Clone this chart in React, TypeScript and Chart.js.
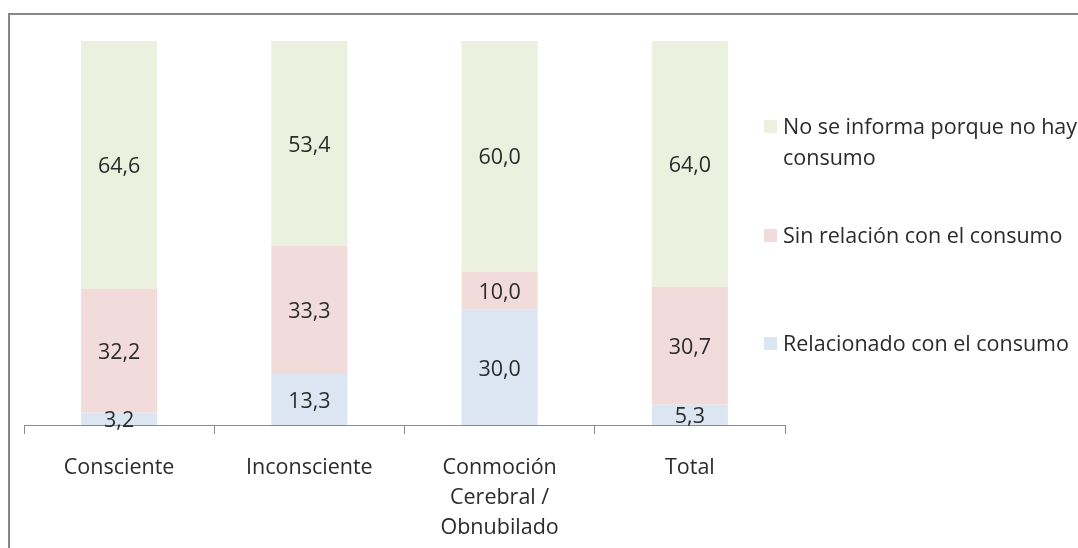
import React, { useEffect, useRef } from "react";
import { Chart, registerables } from "chart.js";

Chart.register(...registerables);

const categories: (string | string[])[] = [
  "Consciente",
  "Inconsciente",
  ["Conmoción", "Cerebral /", "Obnubilado"],
  "Total",
];
const relacionado = [3.2, 13.3, 30.0, 5.3];
const sinRelacion = [32.2, 33.3, 10.0, 30.7];
const noInforma = [64.6, 53.4, 60.0, 64.0];
const seriesNames = [
  "Relacionado con el consumo",
  "Sin relación con el consumo",
  "No se informa porque no hay consumo",
];
const legendLines: string[][] = [
  ["Relacionado con el consumo"],
  ["Sin relación con el consumo"],
  ["No se informa porque no hay", "consumo"],
];
const colors = ["#DCE6F2", "#F2DCDB", "#EBF0DF"];

const FONT = "'Open Sans', 'DejaVu Sans', sans-serif";
const FSIZE = 21.5;

export default function App() {
  const ref = useRef<HTMLCanvasElement | null>(null);

  useEffect(() => {
    document.body.style.margin = "0";
    const canvas = ref.current;
    if (!canvas) return;

    const decoPlugin = {
      id: "deco",
      beforeDraw(chart: any) {
        const ctx = chart.ctx;
        ctx.save();
        ctx.fillStyle = "#ffffff";
        ctx.fillRect(0, 0, chart.width, chart.height);
        ctx.strokeStyle = "#878787";
        ctx.lineWidth = 2;
        ctx.beginPath();
        ctx.moveTo(9, chart.height);
        ctx.lineTo(9, 14);
        ctx.lineTo(chart.width, 14);
        ctx.stroke();
        ctx.restore();
      },
      afterDatasetsDraw(chart: any) {
        const ctx = chart.ctx;
        ctx.save();
        ctx.font = `${FSIZE}px ${FONT}`;
        ctx.fillStyle = "#2b2b2b";
        ctx.textAlign = "center";
        ctx.textBaseline = "middle";
        chart.data.datasets.forEach((ds: any, di: number) => {
          const meta = chart.getDatasetMeta(di);
          meta.data.forEach((bar: any, i: number) => {
            const v = ds.data[i];
            const yc = (bar.y + bar.base) / 2 + 2;
            ctx.fillText(v.toFixed(1).replace(".", ","), bar.x, yc);
          });
        });
        // legend
        const items = [
          { idx: 2, y: 127 },
          { idx: 1, y: 236 },
          { idx: 0, y: 344 },
        ];
        ctx.textAlign = "left";
        items.forEach((it) => {
          ctx.fillStyle = colors[it.idx];
          ctx.fillRect(764, it.y - 7, 13, 13);
          ctx.fillStyle = "#2b2b2b";
          legendLines[it.idx].forEach((ln, k) => {
            ctx.fillText(ln, 783, it.y + 1 + k * 31);
          });
        });
        ctx.restore();
      },
    };

    const chart = new Chart(canvas, {
      type: "bar",
      data: {
        labels: categories,
        datasets: [
          { label: seriesNames[0], data: relacionado, backgroundColor: colors[0] },
          { label: seriesNames[1], data: sinRelacion, backgroundColor: colors[1] },
          { label: seriesNames[2], data: noInforma, backgroundColor: colors[2] },
        ],
      },
      options: {
        animation: false,
        responsive: false,
        maintainAspectRatio: false,
        layout: { padding: { left: 24, right: 293, top: 41, bottom: 0 } },
        datasets: { bar: { barPercentage: 0.4, categoryPercentage: 1 } },
        plugins: {
          legend: { display: false },
          tooltip: { enabled: false },
        },
        scales: {
          x: {
            stacked: true,
            offset: true,
            afterFit: (scale: any) => {
              scale.height = 123;
            },
            border: { display: true, color: "#8c8c8c", width: 1 },
            grid: {
              display: true,
              offset: true,
              drawOnChartArea: false,
              drawTicks: true,
              tickLength: 9,
              color: "#8c8c8c",
            },
            ticks: {
              padding: 19,
              color: "#2b2b2b",
              font: { family: FONT, size: FSIZE, lineHeight: 1.4 },
              maxRotation: 0,
              autoSkip: false,
            },
          },
          y: {
            stacked: true,
            display: false,
            min: 0,
            max: 100,
          },
        },
      },
      plugins: [decoPlugin],
    });
    return () => chart.destroy();
  }, []);

  return <canvas ref={ref} width={1078} height={548} style={{ display: "block" }} />;
}
